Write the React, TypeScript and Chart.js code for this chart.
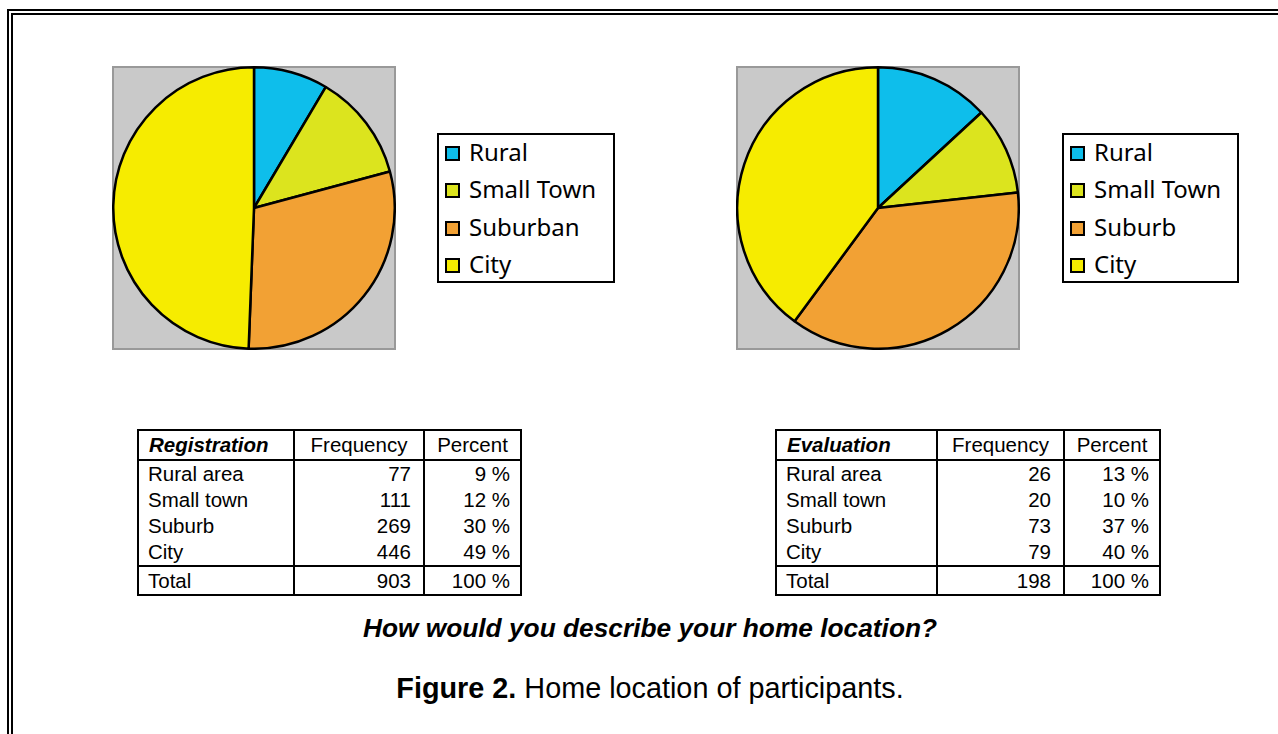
import React, { useEffect, useRef } from "react";
import { Chart, registerables } from "chart.js";

Chart.register(...registerables);

// ---- data ----
const regLegendLabels = ["Rural", "Small Town", "Suburban", "City"];
const evalLegendLabels = ["Rural", "Small Town", "Suburb", "City"];
const regValues = [77, 111, 269, 446];
const evalValues = [26, 20, 73, 79];
const sliceColors = ["#0EBEEB", "#DCE41E", "#F2A134", "#F6EC00"];

const tableRowLabels = ["Rural area", "Small town", "Suburb", "City"];
const regPercents = ["9 %", "12 %", "30 %", "49 %"];
const evalPercents = ["13 %", "10 %", "37 %", "40 %"];
const regTotal = 903;
const evalTotal = 198;

const questionText = "How would you describe your home location?";
const captionBold = "Figure 2.";
const captionRest = " Home location of participants.";

const squareBgPlugin = {
  id: "squareBg",
  beforeDraw(chart: any) {
    const { ctx, width, height } = chart;
    ctx.save();
    ctx.fillStyle = "#C9C9C9";
    ctx.fillRect(0, 0, width, height);
    ctx.strokeStyle = "#999999";
    ctx.lineWidth = 2;
    ctx.strokeRect(1, 1, width - 2, height - 2);
    ctx.restore();
  },
};

function PieChart({ labels, values, left, top }: { labels: string[]; values: number[]; left: number; top: number }) {
  const ref = useRef<HTMLCanvasElement | null>(null);
  useEffect(() => {
    if (!ref.current) return;
    const chart = new Chart(ref.current, {
      type: "pie",
      data: {
        labels,
        datasets: [
          {
            data: values,
            backgroundColor: sliceColors,
            borderColor: "#000000",
            borderWidth: 2.5,
            hoverOffset: 0,
          },
        ],
      },
      options: {
        responsive: false,
        animation: false,
        layout: { padding: 0 },
        plugins: { legend: { display: false }, tooltip: { enabled: false } },
        events: [],
      },
      plugins: [squareBgPlugin],
    });
    return () => chart.destroy();
  }, []);
  return (
    <canvas
      ref={ref}
      width={284}
      height={284}
      style={{ position: "absolute", left, top, width: 284, height: 284, display: "block" }}
    />
  );
}

function Legend({ labels, left, top, width }: { labels: string[]; left: number; top: number; width: number }) {
  return (
    <div
      style={{
        position: "absolute",
        left,
        top,
        width,
        height: 150,
        boxSizing: "border-box",
        border: "2px solid #000",
        background: "#fff",
        fontFamily: "'Noto Sans', sans-serif",
        fontSize: 24,
        color: "#000",
      }}
    >
      {labels.map((l, i) => (
        <div
          key={l}
          style={{
            position: "absolute",
            left: 6,
            top: -2 + i * 37.4,
            height: 37,
            display: "flex",
            alignItems: "center",
            whiteSpace: "nowrap",
          }}
        >
          <span
            style={{
              display: "inline-block",
              width: 15,
              height: 15,
              boxSizing: "border-box",
              border: "2px solid #000",
              background: sliceColors[i],
              marginRight: 9,
              marginTop: 4,
            }}
          />
          <span style={{ lineHeight: "37px" }}>{l}</span>
        </div>
      ))}
    </div>
  );
}

function DataTable({
  title,
  values,
  percents,
  total,
  left,
  top,
  widths,
}: {
  title: string;
  values: number[];
  percents: string[];
  total: number;
  left: number;
  top: number;
  widths: number[];
}) {
  const cell: React.CSSProperties = {
    padding: 0,
    height: 26,
    lineHeight: "26px",
    whiteSpace: "nowrap",
  };
  const vline = "2px solid #000";
  return (
    <table
      style={{
        position: "absolute",
        left,
        top,
        borderCollapse: "collapse",
        border: "2px solid #000",
        fontFamily: "'Liberation Sans', Arial, sans-serif",
        fontSize: 20.5,
        color: "#000",
        tableLayout: "fixed",
      }}
    >
      <colgroup>
        {widths.map((w, i) => (
          <col key={i} style={{ width: w }} />
        ))}
      </colgroup>
      <tbody>
        <tr>
          <td style={{ ...cell, height: 28, paddingLeft: 10, fontWeight: "bold", fontStyle: "italic", borderBottom: vline, borderRight: vline }}>
            {title}
          </td>
          <td style={{ ...cell, height: 28, textAlign: "center", borderBottom: vline, borderRight: vline }}>Frequency</td>
          <td style={{ ...cell, height: 28, textAlign: "center", borderBottom: vline }}>Percent</td>
        </tr>
        {tableRowLabels.map((r, i) => (
          <tr key={r}>
            <td style={{ ...cell, paddingLeft: 9, borderRight: vline }}>{r}</td>
            <td style={{ ...cell, textAlign: "right", paddingRight: 12, borderRight: vline }}>{values[i]}</td>
            <td style={{ ...cell, textAlign: "right", paddingRight: 10 }}>{percents[i]}</td>
          </tr>
        ))}
        <tr>
          <td style={{ ...cell, height: 27, paddingLeft: 9, borderTop: vline, borderRight: vline }}>Total</td>
          <td style={{ ...cell, height: 27, textAlign: "right", paddingRight: 12, borderTop: vline, borderRight: vline }}>{total}</td>
          <td style={{ ...cell, height: 27, textAlign: "right", paddingRight: 10, borderTop: vline }}>100 %</td>
        </tr>
      </tbody>
    </table>
  );
}

export default function App() {
  return (
    <div
      style={{
        position: "fixed",
        left: 0,
        top: 0,
        width: 1278,
        height: 734,
        overflow: "hidden",
        background: "#fff",
      }}
    >
      <div
        style={{
          position: "absolute",
          left: 7,
          top: 9,
          width: 1320,
          height: 800,
          boxSizing: "border-box",
          border: "6px double #000",
        }}
      />
      <PieChart labels={regLegendLabels} values={regValues} left={112} top={66} />
      <PieChart labels={evalLegendLabels} values={evalValues} left={736} top={66} />
      <Legend labels={regLegendLabels} left={437} top={133} width={178} />
      <Legend labels={evalLegendLabels} left={1062} top={133} width={177} />
      <DataTable
        title="Registration"
        values={regValues}
        percents={regPercents}
        total={regTotal}
        left={137}
        top={429}
        widths={[156, 130, 97]}
      />
      <DataTable
        title="Evaluation"
        values={evalValues}
        percents={evalPercents}
        total={evalTotal}
        left={775}
        top={429}
        widths={[161, 127, 96]}
      />
      <div
        style={{
          position: "absolute",
          left: 150,
          width: 1000,
          top: 613,
          textAlign: "center",
          fontFamily: "'Liberation Sans', Arial, sans-serif",
          fontSize: 26.3,
          fontWeight: "bold",
          fontStyle: "italic",
          color: "#000",
          lineHeight: "30px",
        }}
      >
        {questionText}
      </div>
      <div
        style={{
          position: "absolute",
          left: 150,
          width: 1000,
          top: 671,
          textAlign: "center",
          fontFamily: "'Liberation Sans', Arial, sans-serif",
          fontSize: 28.8,
          color: "#000",
          lineHeight: "34px",
        }}
      >
        <b>{captionBold}</b>
        {captionRest}
      </div>
    </div>
  );
}
